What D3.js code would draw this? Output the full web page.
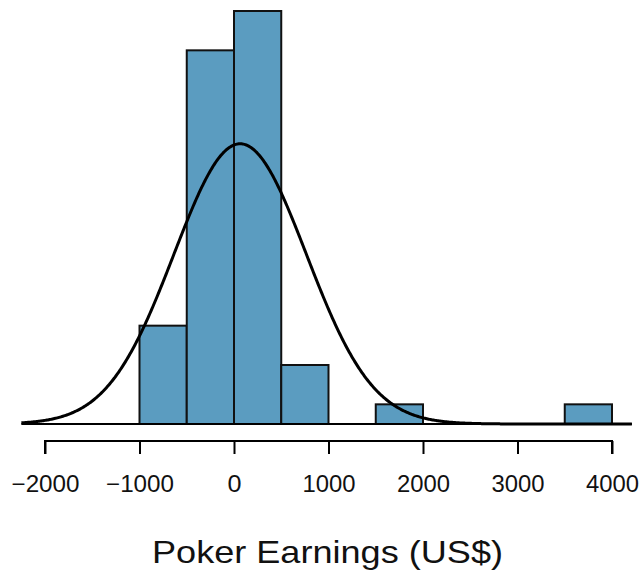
<!DOCTYPE html>
<html>
<head>
<meta charset="utf-8">
<script src="https://cdn.jsdelivr.net/npm/d3@7"></script>
<style>
  body { margin: 0; background: #fff; }
  svg { display: block; font-family: "Liberation Sans", Arial, sans-serif; }
</style>
</head>
<body>
<script>
// histogram bins (US$) and counts
let binStarts = [-1000, -500, 0, 500, 1000, 1500, 2000, 2500, 3000, 3500];
let binWidth = 500;
let counts = [5, 19, 21, 3, 0, 1, 0, 0, 0, 1];
let tickValues = [-2000, -1000, 0, 1000, 2000, 3000, 4000];

// normal fit
let mean = 65;
let sd = 700;
let n = 50;
let curveRange = [-2250, 4210];

let width = 642;
let height = 574;

let x = d3.scaleLinear().domain([-2000, 4000]).range([45, 612]);
let y = d3.scaleLinear().domain([0, 21]).range([424, 11]);

let svg = d3.select("body").append("svg")
  .attr("width", width)
  .attr("height", height);

// bars
svg.append("g")
  .selectAll("rect")
  .data(binStarts.map((b, i) => ({ x0: b, x1: b + binWidth, count: counts[i] })).filter(d => d.count > 0))
  .join("rect")
  .attr("x", d => x(d.x0))
  .attr("y", d => y(d.count))
  .attr("width", d => x(d.x1) - x(d.x0))
  .attr("height", d => y(0) - y(d.count))
  .attr("fill", "#5b9cc0")
  .attr("stroke", "#111")
  .attr("stroke-width", 2);

// baseline
svg.append("line")
  .attr("x1", x(curveRange[0]))
  .attr("x2", x(curveRange[1]))
  .attr("y1", y(0))
  .attr("y2", y(0))
  .attr("stroke", "#000")
  .attr("stroke-width", 2);

// normal curve, scaled to counts
let pdf = v => Math.exp(-0.5 * ((v - mean) / sd) ** 2) / (sd * Math.sqrt(2 * Math.PI));
let pts = d3.range(curveRange[0], curveRange[1] + 1, 10);
let line = d3.line()
  .x(d => x(d))
  .y(d => y(n * binWidth * pdf(d)));

svg.append("path")
  .attr("d", line(pts))
  .attr("fill", "none")
  .attr("stroke", "#000")
  .attr("stroke-width", 3);

// x axis
let xAxis = d3.axisBottom(x)
  .tickValues(tickValues)
  .tickSize(13)
  .tickPadding(22)
  .tickFormat(d => d < 0 ? "\u2212" + Math.abs(d) : d);

svg.append("g")
  .attr("transform", "translate(0,441)")
  .call(xAxis)
  .call(g => g.selectAll(".domain").attr("stroke-width", 2).attr("d", `M${x(-2000)},13V0H${x(4000)}V13`))
  .call(g => g.selectAll(".tick line").attr("stroke-width", 2))
  .call(g => g.selectAll(".tick text").attr("font-size", 23).attr("fill", "#111")
    .attr("textLength", d => d < 0 ? 68 : d === 0 ? 14 : 53)
    .attr("lengthAdjust", "spacingAndGlyphs"));

// x label
svg.append("text")
  .attr("x", 327.5)
  .attr("y", 563)
  .attr("text-anchor", "middle")
  .attr("font-size", 32)
  .attr("fill", "#111")
  .attr("textLength", 351)
  .attr("lengthAdjust", "spacingAndGlyphs")
  .text("Poker Earnings (US$)");
</script>
</body>
</html>
